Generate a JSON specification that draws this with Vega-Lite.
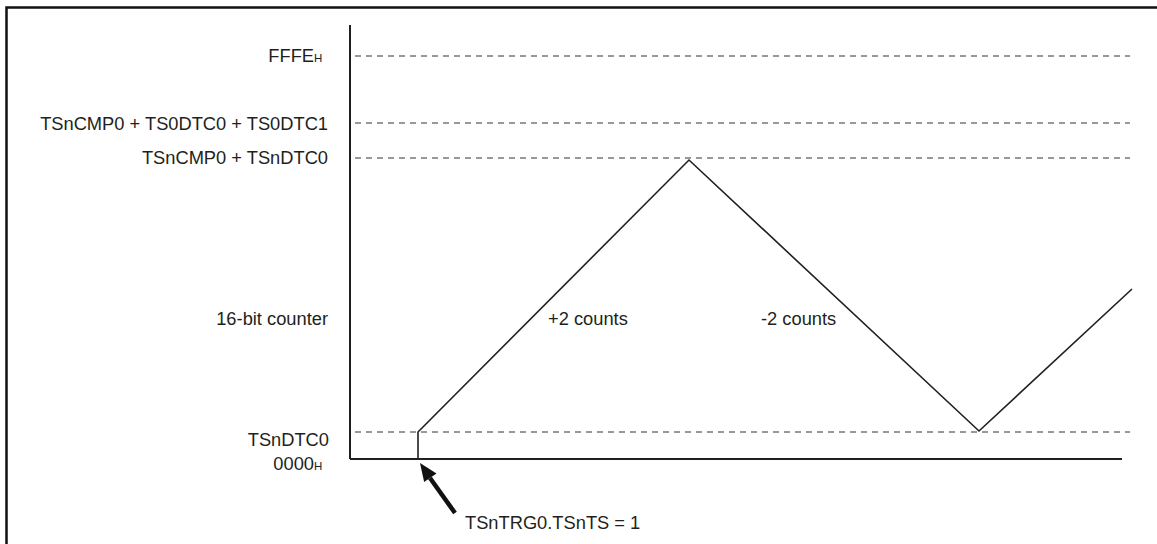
{
  "$schema": "https://vega.github.io/schema/vega-lite/v6.json",
  "width": 1157,
  "height": 544,
  "padding": 0,
  "autosize": {"type": "none"},
  "background": "white",
  "config": {
    "view": {"stroke": null},
    "text": {"font": "Liberation Sans", "color": "#231f20"}
  },
  "datasets": {
    "levels": [
      {"level": "FFFEH", "count": 403},
      {"level": "TSnCMP0 + TS0DTC0 + TS0DTC1", "count": 336},
      {"level": "TSnCMP0 + TSnDTC0", "count": 301},
      {"level": "TSnDTC0", "count": 27}
    ],
    "wave": [
      {"step": 0, "t": 68, "count": 0},
      {"step": 1, "t": 68, "count": 27},
      {"step": 2, "t": 339, "count": 299},
      {"step": 3, "t": 629, "count": 28},
      {"step": 4, "t": 782, "count": 170}
    ],
    "rightLabels": [
      {"label": "FFFE", "t": -36, "count": 397},
      {"label": "TSnCMP0 + TS0DTC0 + TS0DTC1", "t": -22, "count": 329},
      {"label": "TSnCMP0 + TSnDTC0", "t": -22, "count": 295},
      {"label": "16-bit counter", "t": -22, "count": 134},
      {"label": "TSnDTC0", "t": -21, "count": 13},
      {"label": "0000", "t": -36, "count": -11}
    ],
    "subLabels": [
      {"label": "H", "t": -36, "count": 397},
      {"label": "H", "t": -36, "count": -11}
    ],
    "leftLabels": [
      {"label": "+2 counts", "t": 198, "count": 134},
      {"label": "-2 counts", "t": 411, "count": 134},
      {"label": "TSnTRG0.TSnTS = 1", "t": 115, "count": -70}
    ]
  },
  "layer": [
    {
      "data": {"values": [{"t": -343.5, "count": 451.5, "t2": 1000, "count2": -300}]},
      "mark": {"type": "rect", "fillOpacity": 0, "stroke": "#111111", "strokeWidth": 2.5, "clip": true},
      "encoding": {
        "x": {"field": "t", "type": "quantitative", "scale": {"domain": [-350, 807], "nice": false, "zero": false}, "axis": null},
        "x2": {"field": "t2"},
        "y": {"field": "count", "type": "quantitative", "scale": {"domain": [-85, 459], "nice": false, "zero": false}, "axis": null},
        "y2": {"field": "count2"}
      }
    },
    {
      "data": {"name": "levels"},
      "mark": {"type": "rule", "stroke": "#333333", "strokeWidth": 1, "strokeDash": [6, 5]},
      "encoding": {
        "x": {"datum": 5, "type": "quantitative"},
        "x2": {"datum": 780},
        "y": {"field": "count", "type": "quantitative"}
      }
    },
    {
      "data": {"values": [{"axis": "count"}]},
      "mark": {"type": "rule", "stroke": "#231f20", "strokeWidth": 2},
      "encoding": {
        "x": {"datum": 0, "type": "quantitative"},
        "y": {"datum": 0, "type": "quantitative"},
        "y2": {"datum": 434}
      }
    },
    {
      "data": {"values": [{"axis": "time"}]},
      "mark": {"type": "rule", "stroke": "#231f20", "strokeWidth": 2},
      "encoding": {
        "x": {"datum": 0, "type": "quantitative"},
        "x2": {"datum": 772},
        "y": {"datum": 0, "type": "quantitative"}
      }
    },
    {
      "data": {"name": "wave"},
      "mark": {"type": "line", "stroke": "#231f20", "strokeWidth": 1.6},
      "encoding": {
        "x": {"field": "t", "type": "quantitative"},
        "y": {"field": "count", "type": "quantitative"},
        "order": {"field": "step"}
      }
    },
    {
      "data": {"values": [{"t": 80, "count": -19, "t2": 105, "count2": -54}]},
      "mark": {"type": "rule", "stroke": "#111111", "strokeWidth": 4.5},
      "encoding": {
        "x": {"field": "t", "type": "quantitative"},
        "x2": {"field": "t2"},
        "y": {"field": "count", "type": "quantitative"},
        "y2": {"field": "count2"}
      }
    },
    {
      "data": {"values": [{"t": 70, "count": -4}]},
      "mark": {"type": "point", "shape": "M0,0L0.42,1L-0.42,1Z", "filled": true, "fill": "#111111", "stroke": null, "opacity": 1, "size": 1296, "angle": -35},
      "encoding": {
        "x": {"field": "t", "type": "quantitative"},
        "y": {"field": "count", "type": "quantitative"}
      }
    },
    {
      "data": {"name": "rightLabels"},
      "mark": {"type": "text", "align": "right", "baseline": "alphabetic", "fontSize": 18.3},
      "encoding": {
        "x": {"field": "t", "type": "quantitative"},
        "y": {"field": "count", "type": "quantitative"},
        "text": {"field": "label"}
      }
    },
    {
      "data": {"name": "subLabels"},
      "mark": {"type": "text", "align": "left", "baseline": "alphabetic", "fontSize": 11.5},
      "encoding": {
        "x": {"field": "t", "type": "quantitative"},
        "y": {"field": "count", "type": "quantitative"},
        "text": {"field": "label"}
      }
    },
    {
      "data": {"name": "leftLabels"},
      "mark": {"type": "text", "align": "left", "baseline": "alphabetic", "fontSize": 18.3},
      "encoding": {
        "x": {"field": "t", "type": "quantitative"},
        "y": {"field": "count", "type": "quantitative"},
        "text": {"field": "label"}
      }
    }
  ]
}
